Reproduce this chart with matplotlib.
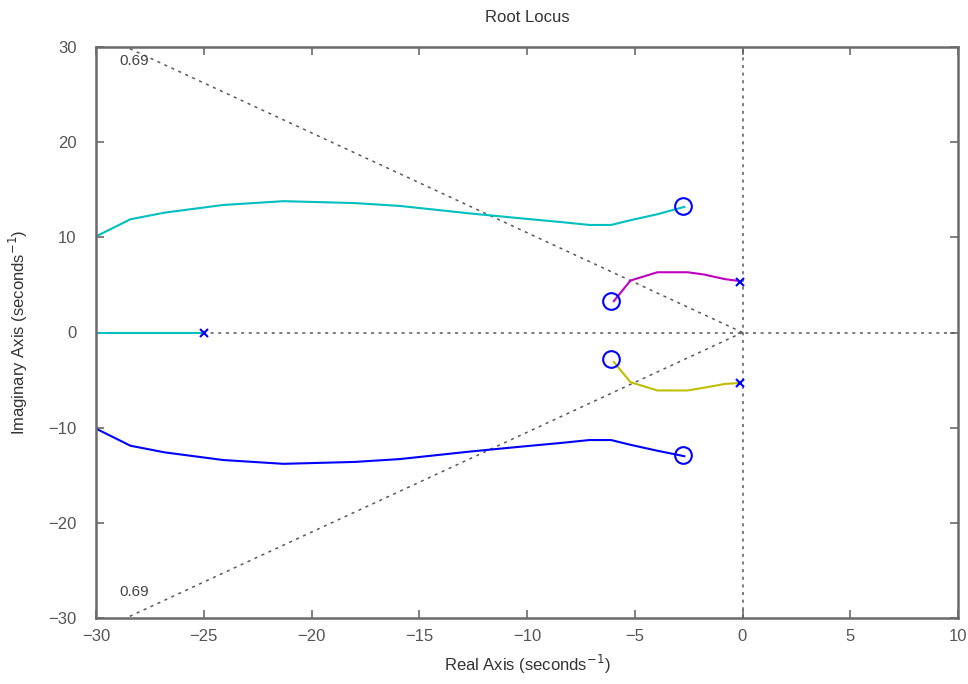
import numpy as np
import matplotlib
matplotlib.use("Agg")
import matplotlib.pyplot as plt

# ── data ────────────────────────────────────────────────────────────────────
upper_re = [-30.0, -28.4, -26.8, -24.1, -21.3, -18.0, -15.9, -12.6, -10.3, -8.4, -7.1, -6.1, -5.2, -4.0, -2.7]
upper_im = [10.1, 11.9, 12.6, 13.4, 13.8, 13.6, 13.3, 12.5, 12.0, 11.6, 11.3, 11.3, 11.8, 12.4, 13.2]

lower_re = [-30.0, -28.4, -26.8, -24.1, -21.3, -18.0, -15.9, -12.6, -10.3, -8.4, -7.1, -6.1, -5.2, -4.0, -2.7]
lower_im = [-10.1, -11.9, -12.6, -13.4, -13.8, -13.6, -13.3, -12.5, -12.0, -11.6, -11.3, -11.3, -11.8, -12.4, -13.0]

mag_re = [-0.1, -0.8, -1.8, -2.55, -3.95, -5.2, -5.97]
mag_im = [5.4, 5.6, 6.1, 6.33, 6.33, 5.46, 3.3]

yel_re = [-0.1, -0.8, -1.8, -2.55, -3.95, -5.2, -5.97]
yel_im = [-5.3, -5.4, -5.81, -6.09, -6.09, -5.22, -3.1]

real_re = [-30.0, -25.0]
real_im = [0.0, 0.0]

pole_re = [-0.1, -0.1, -25.0]
pole_im = [5.35, -5.3, 0.0]

zero_re = [-2.75, -2.75, -6.1, -6.1]
zero_im = [13.3, -12.9, 3.3, -2.8]

damping = 0.69
x_ticks = [-30, -25, -20, -15, -10, -5, 0, 5, 10]
y_ticks = [-30, -20, -10, 0, 10, 20, 30]

# ── colours ──────────────────────────────────────────────────────────────────
CYAN = (0.0, 0.75, 0.75)
BLUE = (0.0, 0.0, 1.0)
MAGENTA = (0.75, 0.0, 0.75)
OLIVE = (0.75, 0.75, 0.0)
GRID = (0.35, 0.35, 0.35)
FRAME = (0.42, 0.42, 0.42)

plt.rcParams["font.family"] = ["Liberation Sans", "DejaVu Sans"]

fig = plt.figure(figsize=(9.68, 6.84), dpi=100)
ax = fig.add_axes([96 / 968, 1 - 618 / 684, (958 - 96) / 968, (618 - 47) / 684])

# damping / axis grid lines
slope = np.sqrt(1 - damping ** 2) / damping
x_end = -30 / slope
ax.plot([0, x_end], [0, 30], ls=(0, (2, 3)), color=GRID, lw=1.1)
ax.plot([0, x_end], [0, -30], ls=(0, (2, 3)), color=GRID, lw=1.1)
ax.axhline(0, ls=(0, (2, 3)), color=GRID, lw=1.1)
ax.axvline(0, ls=(0, (2, 3)), color=GRID, lw=1.1)
ax.text(-28.9, 28.5, f"{damping:.2f}", fontsize=11, color="#444444", va="center")
ax.text(-28.9, -27.3, f"{damping:.2f}", fontsize=11, color="#444444", va="center")

# locus branches
ax.plot(upper_re, upper_im, color=CYAN, lw=1.5)
ax.plot(lower_re, lower_im, color=BLUE, lw=1.5)
ax.plot(mag_re, mag_im, color=MAGENTA, lw=1.5)
ax.plot(yel_re, yel_im, color=OLIVE, lw=1.5)
ax.plot(real_re, real_im, color=CYAN, lw=1.5)

# poles and zeros
ax.plot(pole_re, pole_im, ls="none", marker="x", color=BLUE, ms=6, mew=1.5)
ax.plot(zero_re, zero_im, ls="none", marker="o", mfc="none", mec=BLUE, ms=12, mew=1.5)

ax.set_xlim(-30, 10)
ax.set_ylim(-30, 30)
ax.set_xticks(x_ticks)
ax.set_yticks(y_ticks)
ax.tick_params(direction="in", top=True, right=True, length=6, width=1.2,
               color=FRAME, labelcolor="#555555", labelsize=12)
ax.tick_params(axis="y", pad=14)
ax.tick_params(axis="x", pad=8)
for s in ax.spines.values():
    s.set_color(FRAME)
    s.set_linewidth(1.8)

ax.set_title("Root Locus", fontsize=12, color="#333333", pad=18)
ax.set_xlabel("Real Axis (seconds$^{-1}$)", fontsize=12, color="#333333", va="center")
ax.set_ylabel("Imaginary Axis (seconds$^{-1}$)", fontsize=12, color="#333333", va="center")
ax.xaxis.set_label_coords(0.5, -0.082)
ax.yaxis.set_label_coords(-0.09, 0.5)

fig.savefig("out.png", dpi=100)
